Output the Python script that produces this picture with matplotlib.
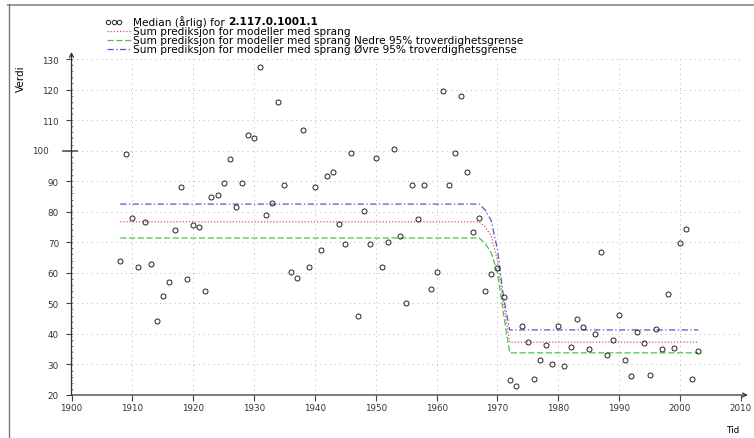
import matplotlib
matplotlib.use('Agg')
import matplotlib.pyplot as plt
from matplotlib.lines import Line2D
from matplotlib.ticker import FixedLocator, FuncFormatter, MultipleLocator

# årlige medianverdier, 1908-2003
aar = list(range(1908, 2004))
median = [
    64.0, 98.9, 78.0, 61.8, 76.7, 62.9, 44.2, 52.4, 57.0, 74.0,
    88.2, 58.0, 75.7, 75.1, 54.2, 84.9, 85.5, 89.3, 97.2, 81.7,
    89.3, 105.2, 104.1, 127.5, 78.9, 82.8, 116.0, 88.8, 60.2, 58.3,
    106.9, 62.0, 88.2, 67.6, 91.7, 93.1, 76.1, 69.5, 99.2, 45.9,
    80.2, 69.5, 97.7, 62.0, 70.0, 100.6, 72.2, 50.2, 88.8, 77.5,
    88.8, 54.8, 60.2, 119.5, 88.8, 99.2, 117.9, 93.1, 73.5, 78.1,
    54.0, 59.7, 61.7, 52.2, 24.8, 23.0, 42.6, 37.3, 25.2, 31.6,
    36.5, 30.2, 42.6, 29.4, 35.8, 45.0, 42.3, 35.1, 40.1, 66.9,
    33.2, 38.0, 46.1, 31.6, 26.1, 40.7, 36.9, 26.7, 41.6, 35.1,
    53.0, 35.3, 69.7, 74.2, 25.4, 34.3,
]

# prediksjon med sprang: knekkpunkter (år) og verdier
pred_aar = [1908, 1967, 1968, 1969, 1970, 1971, 1972, 2003]
pred_sum = [76.7, 76.7, 75.0, 72.0, 64.0, 50.0, 37.3, 37.3]
pred_nedre = [71.4, 71.4, 69.5, 66.5, 60.0, 46.5, 33.8, 33.8]
pred_ovre = [82.5, 82.5, 80.5, 77.0, 67.5, 52.0, 41.3, 41.3]

x_ticks = [1900, 1910, 1920, 1930, 1940, 1950, 1960, 1970, 1980, 1990, 2000, 2010]
y_ticks = [20, 30, 40, 50, 60, 70, 80, 90, 100, 110, 120, 130]

W, H = 754, 439
fig = plt.figure(figsize=(W / 100, H / 100), dpi=100)
ax = fig.add_axes([71.5 / W, 43 / H, 669.4 / W, 336 / H])

rod = '#e05555'
gronn = '#4cc44c'
bla = '#5555d5'

ax.plot(pred_aar, pred_sum, color=rod, lw=0.9, ls=(0, (1, 1.5)))
ax.plot(pred_aar, pred_nedre, color=gronn, lw=0.9, ls=(0, (5, 2)))
ax.plot(pred_aar, pred_ovre, color=bla, lw=0.9, ls=(0, (5, 2, 1, 2)))
ax.plot(aar, median, 'o', ms=3.6, mfc='none', mec='#222222', mew=0.7)

ax.set_xlim(1900, 2010)
ax.set_ylim(20, 130)
for s in ax.spines.values():
    s.set_visible(False)

ax.xaxis.set_major_locator(FixedLocator(x_ticks))
ax.yaxis.set_major_locator(FixedLocator(y_ticks))
ax.yaxis.set_minor_locator(MultipleLocator(2))
ax.yaxis.set_major_formatter(FuncFormatter(lambda v, p: '' if v == 100 else f'{v:.0f}'))
ax.tick_params(axis='both', which='major', direction='out', length=4, width=0.8,
               color='#444444', labelsize=6.3, labelcolor='#333333')
ax.tick_params(axis='x', pad=2)
ax.tick_params(axis='y', pad=5)
ax.tick_params(axis='y', which='minor', direction='inout', length=2, width=0.5, color='#555555')

ax.grid(True, which='major', color='#b5b5b5', lw=0.7, ls=(0, (1, 4)))

# 100-streken er lengre og etiketten trukket ut
ytr = ax.get_yaxis_transform()
ax.plot([-8.2 / 669.4, 5.2 / 669.4], [100, 100], transform=ytr, color='#666666', lw=1.3, clip_on=False)
ax.text(-23.2 / 669.4, 100, '100', transform=ytr, ha='right', va='center',
        fontsize=6.3, color='#333333')

# akser med pilspiss
ax.annotate('', xy=(0, 1 + 7 / 336), xytext=(0, 0), xycoords='axes fraction',
            arrowprops=dict(arrowstyle='->', lw=0.9, color='#333333', shrinkA=0, shrinkB=0,
                            mutation_scale=7), annotation_clip=False)
ax.annotate('', xy=(1 + 7 / 669.4, 0), xytext=(0, 0), xycoords='axes fraction',
            arrowprops=dict(arrowstyle='->', lw=0.9, color='#333333', shrinkA=0, shrinkB=0,
                            mutation_scale=7), annotation_clip=False)

fig.text(20.5 / W, 1 - 79 / H, 'Verdi', rotation=90, ha='center', va='center', fontsize=7.5)
fig.text(733 / W, 1 - 431 / H, 'Tid', ha='center', va='center', fontsize=6.3)

# tegnforklaring
def fy(y):
    return 1 - y / H

fs_leg = 7.6
tx = 133 / W
for x0 in (108, 113.5, 119):
    fig.add_artist(Line2D([x0 / W], [fy(22.5)], marker='o', ms=3.2, mfc='none',
                          mec='#222222', mew=0.7, ls='none'))
t1 = fig.text(tx, fy(22), 'Median (årlig) for ', va='center', fontsize=fs_leg)
ax.annotate('2.117.0.1001.1', xy=(1, 0.5), xycoords=t1, va='center', ha='left',
            fontsize=fs_leg, fontweight='bold', annotation_clip=False)

leg_linjer = [
    (rod, (0, (1, 1.5)), 32, 'Sum prediksjon for modeller med sprang'),
    (gronn, (0, (5, 2)), 41, 'Sum prediksjon for modeller med sprang Nedre 95% troverdighetsgrense'),
    (bla, (0, (5, 2, 1, 2)), 50, 'Sum prediksjon for modeller med sprang Øvre 95% troverdighetsgrense'),
]
for farge, stil, y, tekst in leg_linjer:
    fig.add_artist(Line2D([107 / W, 132 / W], [fy(y), fy(y)], color=farge, lw=0.9, ls=stil))
    fig.text(tx, fy(y), tekst, va='center', fontsize=fs_leg)

# ramme
fig.add_artist(Line2D([8 / W, 1], [fy(5.5), fy(5.5)], color='#999999', lw=1.4))
fig.add_artist(Line2D([8.5 / W, 8.5 / W], [fy(5), 0], color='#777777', lw=1.0))

fig.savefig('out.png', dpi=100)
